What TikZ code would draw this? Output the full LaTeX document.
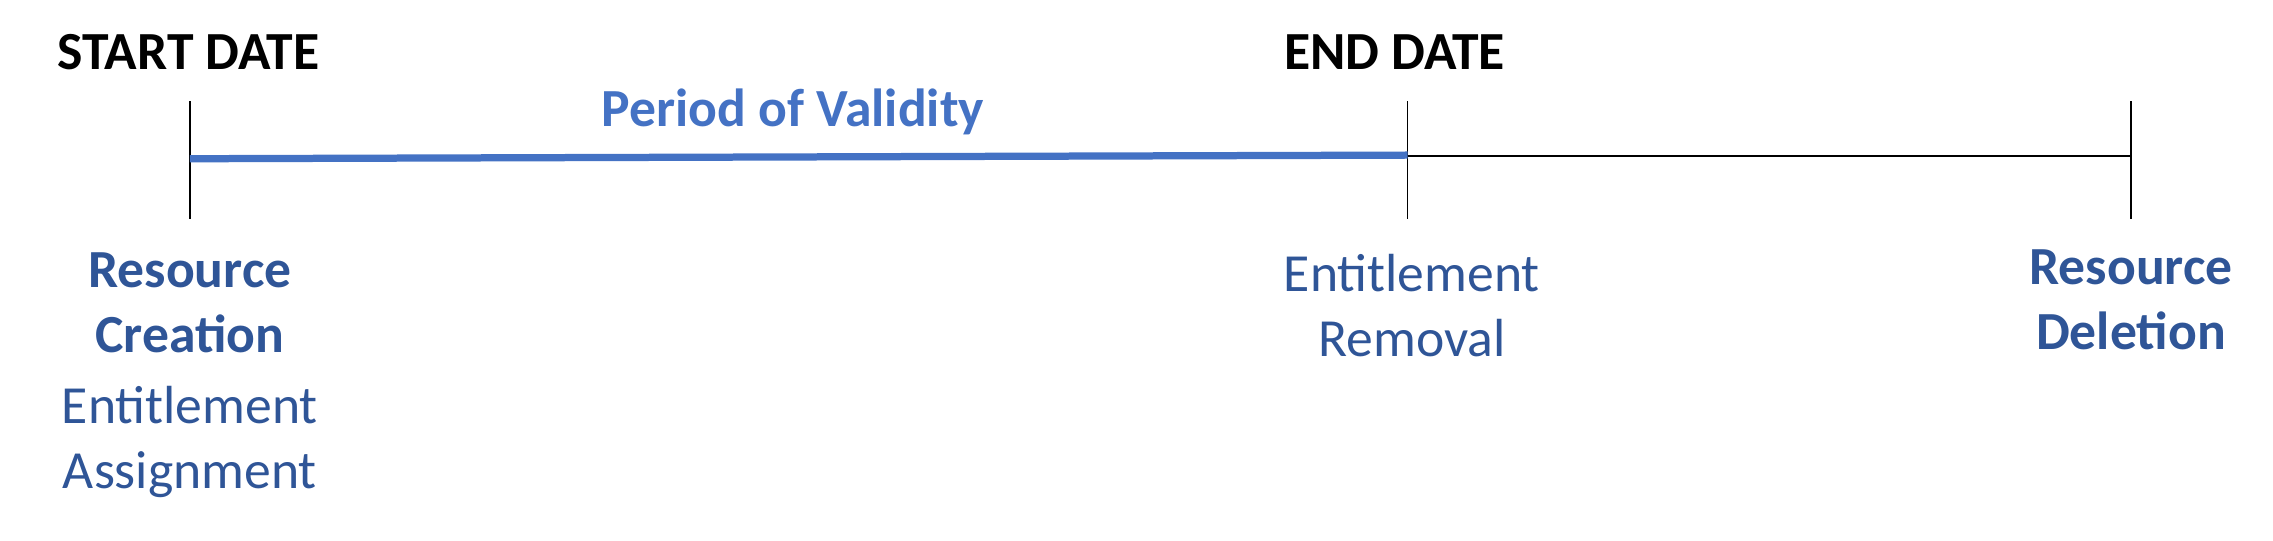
\documentclass[tikz,border=0pt]{standalone}
\usepackage{fontspec}
\setmainfont{Carlito}
\definecolor{dblue}{HTML}{2F5597}
\definecolor{lblue}{HTML}{4472C4}
\begin{document}
\begin{tikzpicture}[x=1pt,y=-1pt,
  lbl/.style={font=\fontsize{37}{45}\selectfont, inner sep=0pt, align=center},
  head/.style={lbl, font=\fontsize{37}{45}\selectfont\bfseries},
  tick/.style={draw=black, line width=1.2pt}]
\useasboundingbox (0,0) rectangle (1568,373);
\coordinate (t1a) at (131,70); \coordinate (t1b) at (131,151);
\coordinate (t2a) at (971,70); \coordinate (t2b) at (971,151);
\coordinate (t3a) at (1470,70); \coordinate (t3b) at (1470,151);
\draw[tick] (t1a) -- (t1b);
\draw[tick] (t2a) -- (t2b);
\draw[tick] (t3a) -- (t3b);
\coordinate (b1) at (131,109.5); \coordinate (b2) at (971,107);
\coordinate (k2) at (971,107.6); \coordinate (k3) at (1470,107.6);
\draw[lblue, line width=5pt] (b1) -- (b2);
\draw[black, line width=1.6pt] (k2) -- (k3);
\node[head] (start) at (130,36) {START DATE};
\node[head] (end) at (962,36) {END DATE};
\node[head, text=lblue] (pov) at (547,77) {Period of Validity};
\node[head, text=dblue] (rc) at (131,209) {Resource\\Creation};
\node[lbl, text=dblue] (ea) at (131,305) {Entitlement\\Assignment};
\node[lbl, text=dblue] (er) at (974,211) {Entitlement\\Removal};
\node[head, text=dblue] (rd) at (1470,207) {Resource\\Deletion};
\end{tikzpicture}
\end{document}
